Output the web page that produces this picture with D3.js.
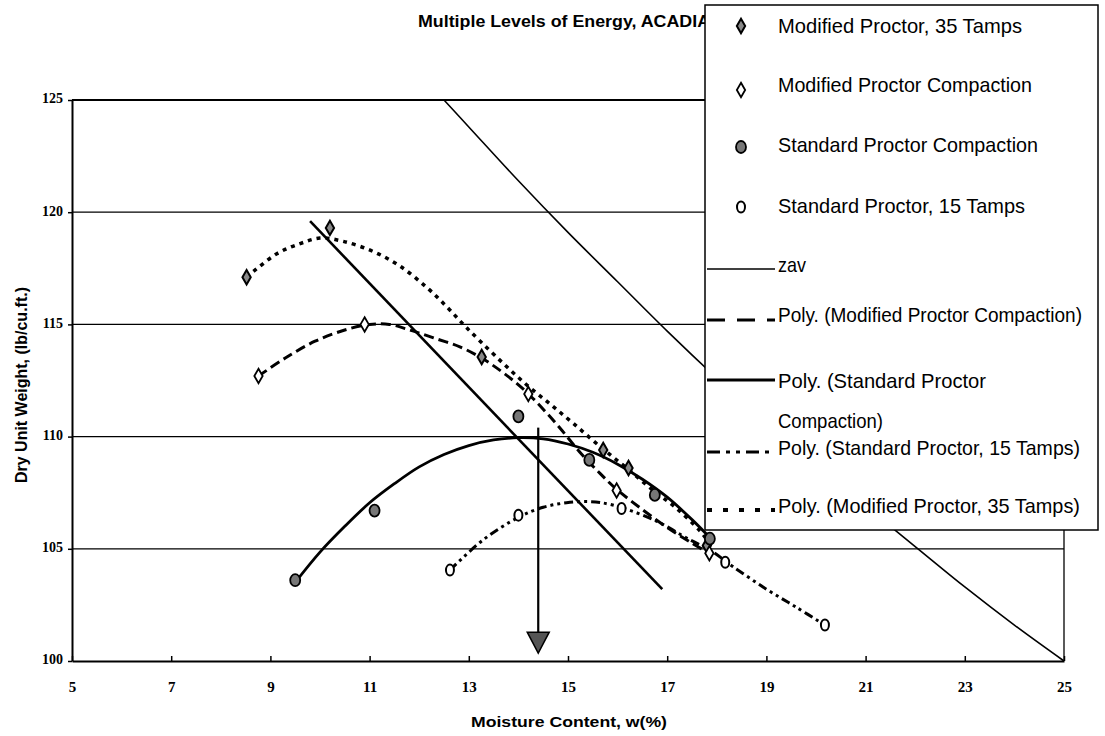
<!DOCTYPE html>
<html>
<head>
<meta charset="utf-8">
<script src="https://cdn.jsdelivr.net/npm/d3@7"></script>
<style>
  body { margin: 0; background: #fff; }
  text { font-family: Arial, "Liberation Sans", sans-serif; fill: #000; }
  .axis .tick text { font-family: "Liberation Serif", "Times New Roman", serif; font-weight: bold; }
</style>
</head>
<body>
<svg id="chart" width="1105" height="736"></svg>
<script>
/* global d3 */

// tick values
const xTicks = [5, 7, 9, 11, 13, 15, 17, 19, 21, 23, 25];
const yTicks = [100, 105, 110, 115, 120, 125];

// measured points [moisture %, dry unit weight]
const modified35 = [[8.52, 117.1], [10.2, 119.3], [13.26, 113.55], [15.71, 109.4], [16.22, 108.6], [17.8, 105.15]];
const modifiedComp = [[8.76, 112.7], [10.9, 115.0], [14.2, 111.9], [15.98, 107.6], [17.85, 104.8]];
const standardComp = [[9.5, 103.6], [11.1, 106.7], [14.0, 110.9], [15.43, 108.96], [16.75, 107.4], [17.86, 105.45]];
const standard15 = [[12.62, 104.05], [14.0, 106.5], [16.08, 106.8], [18.17, 104.4], [20.18, 101.6]];

// zero air voids
const zav = [[12.5, 125.0], [13, 123.8], [14, 121.4], [15, 119.1], [16, 116.9], [17, 114.7], [18, 112.6],
  [19, 110.6], [20, 108.7], [21, 106.9], [22, 105.1], [23, 103.3], [24, 101.6], [25, 100.0]];

// trendlines
const polyModified35 = [[8.52, 117.1], [9.13, 118.15], [9.6, 118.6], [10.0, 118.85], [10.47, 118.7], [11.07, 118.25],
  [11.61, 117.6], [12.15, 116.65], [12.55, 115.8], [12.89, 115.0], [13.23, 114.25], [13.7, 113.25], [14.17, 112.3],
  [14.64, 111.45], [15.1, 110.6], [15.65, 109.55], [16.18, 108.6], [16.72, 107.6], [17.19, 106.8], [17.66, 105.8], [17.8, 105.4]];
const polyModifiedComp = [[8.76, 112.7], [9.3, 113.5], [9.9, 114.25], [10.5, 114.75], [11.0, 115.0], [11.4, 115.0],
  [11.81, 114.75], [12.29, 114.4], [12.82, 114.0], [13.26, 113.5], [13.63, 112.95], [13.95, 112.4], [14.25, 111.8],
  [14.55, 111.1], [14.85, 110.35], [15.24, 109.3], [15.65, 108.35], [15.98, 107.65], [16.5, 106.75], [17.0, 105.95], [17.5, 105.25], [17.85, 104.8]];
const polyStandardComp = [[9.5, 103.5], [10.0, 104.85], [10.5, 106.0], [11.0, 107.05], [11.5, 107.9], [12.0, 108.65],
  [12.5, 109.2], [13.0, 109.6], [13.5, 109.85], [14.0, 109.95], [14.5, 109.9], [15.0, 109.67], [15.5, 109.3],
  [16.0, 108.77], [16.5, 108.1], [17.0, 107.3], [17.5, 106.3], [17.86, 105.5]];
const polyStandard15 = [[12.62, 104.05], [13.29, 105.4], [14.0, 106.4], [14.5, 106.85], [14.97, 107.05], [15.45, 107.1],
  [15.9, 106.95], [16.72, 106.3], [17.46, 105.4], [17.86, 104.95], [18.33, 104.2], [19.0, 103.2], [19.6, 102.4], [20.18, 101.6]];

// line of optimums and the arrow down to the optimum moisture
const optimumLine = [[9.8, 119.6], [16.9, 103.2]];
const arrowX = 14.4;
const arrowFrom = 110.4;
const arrowTo = 100.35;

const title = 'Multiple Levels of Energy, ACADIA';
const xLabel = 'Moisture Content, w(%)';
const yLabel = 'Dry Unit Weight, (lb/cu.ft.)';
const markerLabels = ['Modified Proctor, 35 Tamps', 'Modified Proctor Compaction', 'Standard Proctor Compaction', 'Standard Proctor, 15 Tamps'];
const lineLabels = ['zav', 'Poly. (Modified Proctor Compaction)', ['Poly. (Standard Proctor', 'Compaction)'],
  'Poly. (Standard Proctor, 15 Tamps)', 'Poly. (Modified Proctor, 35 Tamps)'];

const svg = d3.select('#chart');

const x = d3.scaleLinear().domain([5, 25]).range([72, 1064]);
const y = d3.scaleLinear().domain([100, 125]).range([661, 100]);

// grid
svg.append('g')
  .selectAll('line')
  .data(yTicks.filter(d => d > 100))
  .enter()
  .append('line')
    .attr('x1', x(5))
    .attr('x2', x(25))
    .attr('y1', d => y(d))
    .attr('y2', d => y(d))
    .attr('stroke', '#000')
    .attr('stroke-width', d => d === 125 ? 2.2 : 1.3);

// right border of plot area
svg.append('line')
  .attr('x1', x(25)).attr('x2', x(25))
  .attr('y1', y(125)).attr('y2', y(100))
  .attr('stroke', '#000').attr('stroke-width', 1.3);

// axes
const xAxis = svg.append('g')
  .attr('class', 'axis')
  .attr('transform', `translate(0,${y(100)})`)
  .call(d3.axisBottom(x).tickValues(xTicks).tickSize(-5).tickSizeOuter(0).tickPadding(20));
xAxis.selectAll('.tick text').attr('font-size', 15);

const yAxis = svg.append('g')
  .attr('class', 'axis')
  .attr('transform', `translate(${x(5)},0)`)
  .call(d3.axisLeft(y).tickValues(yTicks).tickSize(4).tickSizeOuter(0).tickPadding(5));
yAxis.selectAll('.tick text').attr('font-size', 14).attr('dy', '0.2em');

svg.selectAll('.axis .domain').attr('stroke', '#000').attr('stroke-width', 2);
svg.selectAll('.axis .tick line').attr('stroke', '#000').attr('stroke-width', 1.5);

// lines
const line = d3.line().x(d => x(d[0])).y(d => y(d[1]));
const smooth = d3.line().x(d => x(d[0])).y(d => y(d[1])).curve(d3.curveCatmullRom.alpha(0.5));

svg.append('path').datum(zav)
  .attr('d', smooth).attr('fill', 'none').attr('stroke', '#000').attr('stroke-width', 1.6);

svg.append('path').datum(optimumLine)
  .attr('d', line).attr('fill', 'none').attr('stroke', '#000').attr('stroke-width', 2.6);

const trendStyles = [
  { data: polyStandardComp, dash: null, width: 2.8 },
  { data: polyStandard15, dash: '9,4,3,4,3,4', width: 3 },
  { data: polyModifiedComp, dash: '10,5', width: 3 },
  { data: polyModified35, dash: '4,5', width: 3.5 },
];
trendStyles.forEach(t => {
  svg.append('path').datum(t.data)
    .attr('d', smooth)
    .attr('fill', 'none')
    .attr('stroke', '#000')
    .attr('stroke-width', t.width)
    .attr('stroke-dasharray', t.dash);
});

// arrow
svg.append('line')
  .attr('x1', x(arrowX)).attr('x2', x(arrowX))
  .attr('y1', y(arrowFrom)).attr('y2', y(arrowTo) - 18)
  .attr('stroke', '#000').attr('stroke-width', 2.2);
svg.append('path')
  .attr('d', `M${x(arrowX) - 11},${y(arrowTo) - 21}L${x(arrowX) + 11},${y(arrowTo) - 21}L${x(arrowX)},${y(arrowTo)}Z`)
  .attr('fill', '#555').attr('stroke', '#000').attr('stroke-width', 1.5);

// markers
const drawDiamond = (g, filled) => g.append('path')
  .attr('d', d3.symbol(d3.symbolDiamond, 60)())
  .attr('fill', filled ? '#888' : '#fff')
  .attr('stroke', '#000')
  .attr('stroke-width', filled ? 2 : 1.8);
const drawDot = g => g.append('ellipse')
  .attr('rx', 5).attr('ry', 6)
  .attr('fill', '#777').attr('stroke', '#000').attr('stroke-width', 1.8);
const drawO = g => g.append('ellipse')
  .attr('rx', 4).attr('ry', 5.5)
  .attr('fill', '#fff').attr('stroke', '#000').attr('stroke-width', 2);

const markerDrawers = [g => drawDiamond(g, true), g => drawDiamond(g, false), drawDot, drawO];
const markerSeries = [modified35, modifiedComp, standardComp, standard15];

markerSeries.forEach((series, i) => {
  svg.append('g')
    .selectAll('g')
    .data(series)
    .enter()
    .append('g')
      .attr('transform', d => `translate(${x(d[0])},${y(d[1])})`)
      .each(function () { markerDrawers[i](d3.select(this)); });
});

// title (its end sits under the legend)
svg.append('text')
  .attr('x', 418).attr('y', 27)
  .attr('font-size', 16).attr('font-weight', 'bold')
  .attr('textLength', 292).attr('lengthAdjust', 'spacingAndGlyphs')
  .text(title);

// axis titles
svg.append('text')
  .attr('x', 569).attr('y', 727)
  .attr('text-anchor', 'middle')
  .attr('font-size', 15).attr('font-weight', 'bold')
  .attr('textLength', 196).attr('lengthAdjust', 'spacingAndGlyphs')
  .text(xLabel);

svg.append('text')
  .attr('transform', 'translate(27,385) rotate(-90)')
  .attr('text-anchor', 'middle')
  .attr('font-size', 16).attr('font-weight', 'bold')
  .attr('textLength', 196).attr('lengthAdjust', 'spacingAndGlyphs')
  .text(yLabel);

// legend
const legend = svg.append('g');
legend.append('rect')
  .attr('x', 705).attr('y', 5).attr('width', 393).attr('height', 525)
  .attr('fill', '#fff').attr('stroke', '#000').attr('stroke-width', 1.5);

const legendText = (label, ty, w) => legend.append('text')
  .attr('x', 778).attr('y', ty)
  .attr('font-size', 21)
  .attr('textLength', w).attr('lengthAdjust', 'spacingAndGlyphs')
  .text(label);

const markerRowY = [26, 90, 147, 207];
const markerTextY = [33, 92, 152, 213];
const markerTextW = [244, 254, 260, 247];
markerLabels.forEach((label, i) => {
  const g = legend.append('g').attr('transform', `translate(741,${markerRowY[i]})`);
  markerDrawers[i](g);
  legendText(label, markerTextY[i], markerTextW[i]);
});

const lineRowY = [269, 320, 380, 452, 510];
const lineTextY = [272, 322, 388, 455, 513];
const lineTextW = [28, 304, 208, 302, 302];
const lineDash = [null, '18,12', null, '13,6,4,6,4,6', '5,11'];
const lineWidth = [1.6, 3, 3, 3, 4];
lineLabels.forEach((label, i) => {
  legend.append('line')
    .attr('x1', 707).attr('x2', 775)
    .attr('y1', lineRowY[i]).attr('y2', lineRowY[i])
    .attr('stroke', '#000')
    .attr('stroke-width', lineWidth[i])
    .attr('stroke-dasharray', lineDash[i]);
  if (Array.isArray(label)) {
    legendText(label[0], lineTextY[i], lineTextW[i]);
    legendText(label[1], 428, 105);
  } else {
    legendText(label, lineTextY[i], lineTextW[i]);
  }
});
</script>
</body>
</html>
